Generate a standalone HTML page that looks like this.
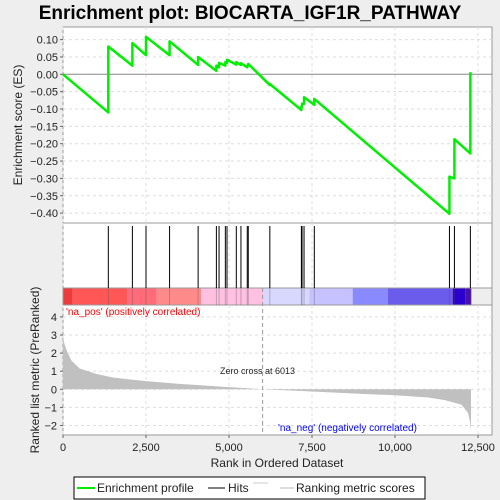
<!DOCTYPE html>
<html><head><meta charset="utf-8"><style>
body{margin:0;background:#eeeeee;font-family:"Liberation Sans",sans-serif}
svg{display:block}
</style></head><body>
<svg id="c" width="500" height="500" xmlns="http://www.w3.org/2000/svg">
<text x="250" y="19" text-anchor="middle" font-size="19" font-weight="bold" fill="#000">Enrichment plot: BIOCARTA_IGF1R_PATHWAY</text>
<g id="g"></g>
</svg>
<script>
const hitRanks=[1365,2090,2500,3210,4070,4620,4700,4890,4940,5220,5360,5550,5580,6230,7180,7200,7260,7570,11640,11790,12270];
const esBefore=[-0.11,0.025,0.055,0.055,0.027,0.01,0.02,0.025,0.033,0.028,0.027,0.02,0.025,-0.031,-0.103,-0.093,-0.085,-0.088,-0.402,-0.30,-0.228];
const esAfter=[0.08,0.09,0.108,0.095,0.05,0.025,0.033,0.035,0.042,0.035,0.032,0.025,0.03,-0.028,-0.093,-0.085,-0.066,-0.071,-0.295,-0.187,0.003];
const totalRanks=12290;
const metricRanks=[0,30,100,250,500,1000,1500,2500,3500,5000,6013,7500,9000,10000,11000,11500,12000,12200,12260,12290];
const metricVals=[2.9,2.6,2.2,1.6,1.15,0.85,0.65,0.45,0.3,0.12,0,-0.12,-0.25,-0.33,-0.45,-0.6,-0.85,-1.3,-1.8,-2.3];
const xTicks=[0,2500,5000,7500,10000,12500];
const xTickLabels=["0","2,500","5,000","7,500","10,000","12,500"];
const esTicks=[0.10,0.05,0,-0.05,-0.10,-0.15,-0.20,-0.25,-0.30,-0.35,-0.40];
const metricTicks=[4,3,2,1,0,-1,-2];
const zeroCross=6013;

const NS="http://www.w3.org/2000/svg";
const g=document.getElementById('g');
const L=63,R=492;
const X=r=>L+r*415/12500;
const YE=v=>74.3-v*347;
const YM=v=>389.3-v*18.1;
function el(t,a,p){const e=document.createElementNS(NS,t);for(const k in a)e.setAttribute(k,a[k]);(p||g).appendChild(e);return e;}
// panels
let p1=el('rect',{x:L,y:27,width:R-L,height:196,fill:'#fff',stroke:'#999'});

let p2=el('rect',{x:L,y:223,width:R-L,height:65,fill:'#fff',stroke:'#999'});

let p3=el('rect',{x:L,y:305,width:R-L,height:130,fill:'#fff',stroke:'#999'});

// colorbar
const segs=[[63.3,'#ee3a3a'],[72.7,'#ff5656'],[127.3,'#ff6b78'],[156.7,'#ff8a8a'],[201,'#ffc0e2'],[263.3,'#d8d8ff'],[309.3,'#c6c2ff'],[352.7,'#8a8aff'],[388,'#6c5cec'],[452.7,'#2a00d0'],[465.3,'#4a10a8'],[471.3,null]];
for(let i=0;i<segs.length-1;i++){let s=el('rect',{x:segs[i][0],y:288,width:segs[i+1][0]-segs[i][0],height:17,fill:segs[i][1]});
}
let cb=el('rect',{x:L,y:288,width:R-L,height:17,fill:'none',stroke:'#999'});
// grids
xTicks.forEach(t=>{[[27,223],[223,288],[305,435]].forEach(([a,b])=>{el('line',{x1:X(t),x2:X(t),y1:a,y2:b,stroke:'#ddd','stroke-dasharray':'3,3'});});});
esTicks.forEach(t=>{if(t!==0)el('line',{x1:L,x2:R,y1:YE(t),y2:YE(t),stroke:'#ddd','stroke-dasharray':'3,3'});});
metricTicks.forEach(t=>{el('line',{x1:L,x2:R,y1:YM(t),y2:YM(t),stroke:'#ddd','stroke-dasharray':'3,3'});});
el('line',{x1:L,x2:R,y1:YE(0),y2:YE(0),stroke:'#888'});
// hits
hitRanks.forEach(r=>{let h=el('line',{x1:X(r),x2:X(r),y1:226,y2:288,stroke:'#000','stroke-width':1});

el('line',{x1:X(r),x2:X(r),y1:288,y2:305,stroke:'rgba(80,80,80,0.35)'});});
// metric area
let d='M'+X(0)+','+YM(0);
metricRanks.forEach((r,i)=>{d+=' L'+X(r)+','+YM(metricVals[i]);});
d+=' L'+X(metricRanks[metricRanks.length-1])+','+YM(0)+'Z';
let ma=el('path',{d:d,fill:'#c0c0c0'});

let zc=el('line',{x1:X(zeroCross),x2:X(zeroCross),y1:288,y2:435,stroke:'#999','stroke-dasharray':'4,3'});

// ES line
let pts=[[0,0]];
hitRanks.forEach((r,i)=>{pts.push([r,esBefore[i]]);pts.push([r,esAfter[i]]);});
pts.push([totalRanks,0]);
let es=el('polyline',{points:pts.map(p=>X(p[0])+','+YE(p[1])).join(' '),fill:'none',stroke:'#00ee00','stroke-width':2.5,'stroke-linejoin':'round'});

// axes ticks & labels
function txt(x,y,s,o){const t=el('text',Object.assign({x:x,y:y,'font-size':11,fill:'#222'},o||{}));t.textContent=s;return t;}
esTicks.forEach(t=>{el('line',{x1:L-3,x2:L,y1:YE(t),y2:YE(t),stroke:'#666'});
let lb=txt(L-5,YE(t)+4,t.toFixed(2).replace('-','\u2212'),{'text-anchor':'end'});
});
metricTicks.forEach(t=>{el('line',{x1:L-3,x2:L,y1:YM(t),y2:YM(t),stroke:'#666'});
let lb=txt(L-6,YM(t)+4,String(t).replace('-','\u2212'),{'text-anchor':'end'});
});
xTicks.forEach((t,i)=>{el('line',{x1:X(t),x2:X(t),y1:435,y2:438,stroke:'#666'});
let lb=txt(X(t),451,xTickLabels[i],{'text-anchor':'middle'});
});
let yt=txt(0,0,'Enrichment score (ES)',{'font-size':12,'text-anchor':'middle',transform:'translate(22,125) rotate(-90)'});

let yt2=txt(0,0,'Ranked list metric (PreRanked)',{'font-size':12,'text-anchor':'middle',transform:'translate(39,370) rotate(-90)'});

let xt=txt(277,467,'Rank in Ordered Dataset',{'font-size':12,'text-anchor':'middle'});

let pl=txt(66,315,"'na_pos' (positively correlated)",{'font-size':10,fill:'#ff0000'});

let nl=txt(278,431,"'na_neg' (negatively correlated)",{'font-size':10,fill:'#0000ff'});

let zl=txt(220,374,'Zero cross at 6013',{'font-size':9,fill:'#222'});

// legend
let lg=el('rect',{x:74,y:477,width:351,height:22,fill:'#fff',stroke:'#000'});

el('line',{x1:77,x2:95,y1:488,y2:488,stroke:'#00ee00','stroke-width':2});
let l1=txt(97,492,'Enrichment profile',{'font-size':12});

el('line',{x1:208,x2:225,y1:488,y2:488,stroke:'#000'});
let l2=txt(228,492,'Hits',{'font-size':12});

el('line',{x1:253,x2:268,y1:483,y2:483,stroke:'#ccc'});
el('line',{x1:280,x2:294,y1:488,y2:488,stroke:'#bbb'});
let l3=txt(296,492,'Ranking metric scores',{'font-size':12});

</script>
</body></html>
